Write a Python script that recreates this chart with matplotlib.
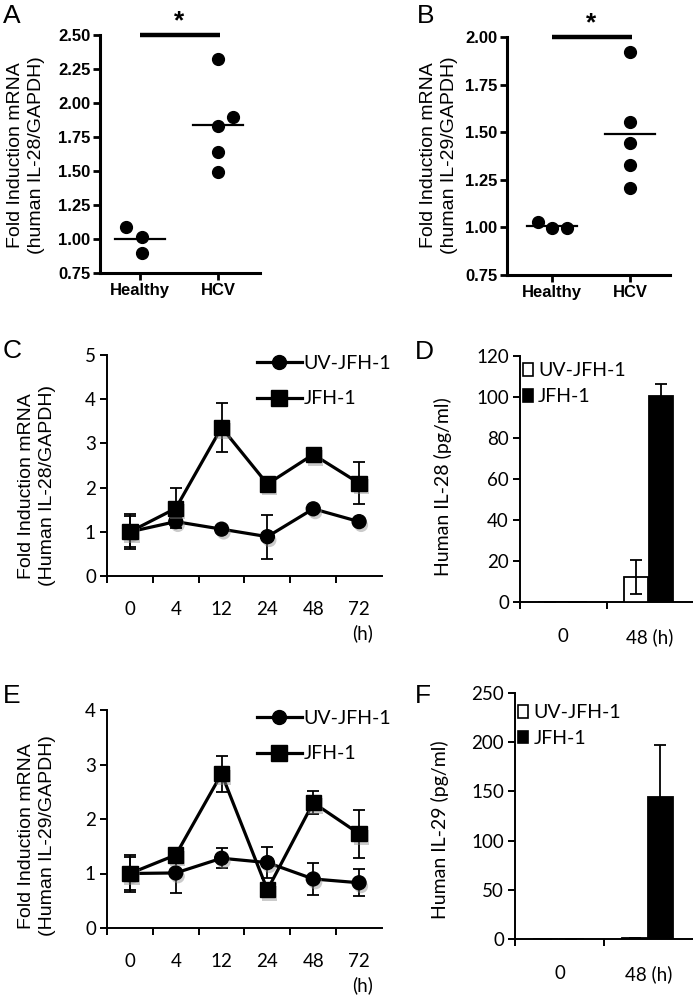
import numpy as np
import matplotlib
matplotlib.use("Agg")
import matplotlib.pyplot as plt
import matplotlib.patheffects as pe
from matplotlib.patches import Patch
from matplotlib.lines import Line2D

# ---- data -------------------------------------------------------------
groups = ["Healthy", "HCV"]
a_healthy = [1.09, 1.015, 0.90]
a_hcv = [2.32, 1.90, 1.83, 1.64, 1.49]
b_healthy = [1.03, 0.998, 0.998]
b_hcv = [1.92, 1.554, 1.444, 1.33, 1.208]

hours = ["0", "4", "12", "24", "48", "72"]
c_uv = [1.0, 1.23, 1.06, 0.89, 1.52, 1.23]
c_uv_err = [0.35, 0.05, 0.05, 0.5, 0.05, 0.05]
c_jfh = [1.0, 1.53, 3.36, 2.08, 2.75, 2.10]
c_jfh_err = [0.4, 0.45, 0.55, 0.05, 0.05, 0.48]

e_uv = [1.0, 1.01, 1.28, 1.20, 0.90, 0.83]
e_uv_err = [0.3, 0.37, 0.18, 0.29, 0.30, 0.25]
e_jfh = [1.0, 1.34, 2.83, 0.70, 2.30, 1.73]
e_jfh_err = [0.34, 0.08, 0.33, 0.05, 0.21, 0.44]

elisa_times = ["0", "48 (h)"]
d_uv = [0, 12.2]
d_uv_err = [0, 8.5]
d_jfh = [0, 100.5]
d_jfh_err = [0, 6]
f_uv = [0.5, 1.5]
f_uv_err = [0, 0]
f_jfh = [0.5, 144]
f_jfh_err = [0, 53]

# horizontal scatter of the dots in A/B (layout only)
jit_a_healthy = [-0.18, 0.02, 0.02]
jit_a_hcv = [0, 0.19, 0, 0, 0]
jit_b_healthy = [-0.18, 0, 0.19]
jit_b_hcv = [0, 0, 0, 0, 0]

W, H = 693, 998
fig = plt.figure(figsize=(W / 100, H / 100), dpi=100)

ARIAL = "Liberation Sans"
CAL = "Lato"
TS = 13.5   # tick label size, panels C-F


def px_axes(l, t, r, b):
    return fig.add_axes([l / W, 1 - b / H, (r - l) / W, (b - t) / H])


def letter(x, y, s):
    fig.text(x / W, 1 - y / H, s, fontsize=19, family=ARIAL, va="baseline", ha="left")


def ylab(x, y, s, family=ARIAL, size=14):
    fig.text(x / W, 1 - y / H, s, rotation=90, ha="center", va="center",
             fontsize=size, family=family, multialignment="center", linespacing=1.25)


def scatter_panel(ax, healthy, hcv, jh, jc, ylim, ticks, xlim):
    ax.plot(np.array(jh), healthy, "o", color="black", ms=8.5, clip_on=False)
    ax.plot(1 + np.array(jc), hcv, "o", color="black", ms=8.5, clip_on=False)
    for x, vals in [(0, healthy), (1, hcv)]:
        m = np.mean(vals)
        ax.plot([x - 0.32, x + 0.32], [m, m], color="black", lw=1.6)
    ax.set_xlim(*xlim)
    ax.set_ylim(*ylim)
    ax.set_yticks(ticks)
    ax.set_yticklabels(["%.2f" % t for t in ticks])
    ax.set_xticks([0, 1])
    ax.set_xticklabels(groups)
    for s in ["top", "right"]:
        ax.spines[s].set_visible(False)
    for s in ["left", "bottom"]:
        ax.spines[s].set_linewidth(2.2)
    ax.tick_params(width=2.0, length=5, direction="out", labelsize=12, pad=2)
    for lab in ax.get_xticklabels() + ax.get_yticklabels():
        lab.set_fontweight("bold")
        lab.set_family(ARIAL)
    # significance bar
    top = ylim[1]
    ax.plot([0, 1.03], [top, top], color="black", lw=3.2, clip_on=False, solid_capstyle="butt")
    ax.annotate("*", xy=(0.5, top), xycoords="data", xytext=(0, 1), textcoords="offset points",
                ha="center", va="bottom", fontsize=19, fontweight="bold", family=ARIAL)


# ---- A ----
axA = px_axes(100, 35, 260, 273)
scatter_panel(axA, a_healthy, a_hcv, jit_a_healthy, jit_a_hcv, (0.75, 2.50),
              np.arange(0.75, 2.51, 0.25), (-0.513, 1.54))
letter(3, 23, "A")
ylab(26, 155, "Fold Induction mRNA\n(human IL-28/GAPDH)")

# ---- B ----
axB = px_axes(507, 37, 670, 275)
scatter_panel(axB, b_healthy, b_hcv, jit_b_healthy, jit_b_hcv, (0.75, 2.00),
              np.arange(0.75, 2.01, 0.25), (-0.577, 1.513))
letter(417, 23, "B")
ylab(439, 155, "Fold Induction mRNA\n(human IL-29/GAPDH)")

shadow = [pe.SimplePatchShadow(offset=(1.5, -2.5), shadow_rgbFace="0.55", alpha=0.45), pe.Normal()]


def line_panel(ax, uv, uv_err, jfh, jfh_err, ymax):
    x = np.arange(len(hours))
    ekw = dict(ecolor="black", elinewidth=1.3, capsize=4, capthick=1.3)
    ax.errorbar(x, uv, yerr=uv_err, fmt="-", color="black", lw=2.3, zorder=3, **ekw)
    ax.plot(x, uv, "o", color="black", ms=10, zorder=3.5, path_effects=shadow)
    ax.errorbar(x, jfh, yerr=jfh_err, fmt="-", color="black", lw=2.3, zorder=4, **ekw)
    ax.plot(x, jfh, "s", color="black", ms=11, zorder=4.5, path_effects=shadow)
    ax.set_xlim(-0.5, len(hours) - 0.5)
    ax.set_ylim(0, ymax)
    ax.set_yticks(range(0, ymax + 1))
    ax.set_xticks(x)
    ax.set_xticklabels(hours)
    ax.set_xticks(np.arange(-0.5, len(hours) - 1, 1), minor=True)
    for s in ["top", "right"]:
        ax.spines[s].set_visible(False)
    for s in ["left", "bottom"]:
        ax.spines[s].set_linewidth(1.4)
    ax.tick_params(axis="x", which="major", length=0, pad=18, labelsize=TS)
    ax.tick_params(axis="x", which="minor", length=5, width=1.4, direction="out")
    ax.tick_params(axis="y", length=5, width=1.4, direction="out", labelsize=TS, pad=3)
    for lab in ax.get_xticklabels() + ax.get_yticklabels():
        lab.set_family(CAL)
    ax.annotate("(h)", xy=(len(hours) - 1, 0), xycoords=("data", "axes fraction"),
                xytext=(3, -57), textcoords="offset pixels", ha="center", va="center",
                fontsize=TS, family=CAL)
    handles = [Line2D([], [], color="black", marker="o", lw=2.3, ms=10),
               Line2D([], [], color="black", marker="s", lw=2.3, ms=11)]
    ax.legend(handles, ["UV-JFH-1", "JFH-1"], loc="upper left", bbox_to_anchor=(0.545, 1.0),
              frameon=False, borderaxespad=0, borderpad=0, handlelength=2.3,
              handletextpad=0.1, labelspacing=0.95, prop={"family": CAL, "size": 14})


# ---- C ----
axC = px_axes(107, 355, 382, 576)
line_panel(axC, c_uv, c_uv_err, c_jfh, c_jfh_err, 5)
letter(3, 358, "C")
ylab(37, 486, "Fold Induction mRNA\n(Human IL-28/GAPDH)")

# ---- E ----
axE = px_axes(107, 710, 382, 928)
line_panel(axE, e_uv, e_uv_err, e_jfh, e_jfh_err, 4)
letter(3, 703, "E")
ylab(37, 836, "Fold Induction mRNA\n(Human IL-29/GAPDH)")


def bar_panel(ax, uv, uv_err, jfh, jfh_err, ymax, step, top_anchor):
    x = np.arange(len(elisa_times))
    w = 0.28
    ekw = dict(ecolor="black", elinewidth=1.3, capsize=4, capthick=1.3)
    ax.bar(x - 0.155, uv, w, color="white", edgecolor="black", lw=1.3, yerr=uv_err,
           error_kw=ekw, zorder=3)
    ax.bar(x + 0.13, jfh, w, color="black", edgecolor="black", lw=1.3, yerr=jfh_err,
           error_kw=ekw, zorder=2)
    ax.set_xlim(-0.48, 1.5)
    ax.set_ylim(0, ymax)
    ax.set_yticks(np.arange(0, ymax + 1, step))
    ax.set_xticks(x)
    ax.set_xticklabels(elisa_times)
    ax.set_xticks([-0.5, 0.5], minor=True)
    for s in ["top", "right"]:
        ax.spines[s].set_visible(False)
    for s in ["left", "bottom"]:
        ax.spines[s].set_linewidth(1.4)
    ax.tick_params(axis="x", which="major", length=0, pad=19, labelsize=TS)
    ax.tick_params(axis="x", which="minor", length=5, width=1.4, direction="out")
    ax.tick_params(axis="y", length=5, width=1.4, direction="out", labelsize=TS, pad=3)
    for lab in ax.get_xticklabels() + ax.get_yticklabels():
        lab.set_family(CAL)
    handles = [Patch(facecolor="white", edgecolor="black", lw=1.2),
               Patch(facecolor="black", edgecolor="black", lw=1.2)]
    ax.legend(handles, ["UV-JFH-1", "JFH-1"], loc="upper left", bbox_to_anchor=(0.015, top_anchor),
              frameon=False, borderaxespad=0, borderpad=0, handlelength=0.55, handleheight=0.65,
              handletextpad=0.25, labelspacing=0.45, prop={"family": CAL, "size": 14})


# ---- D ----
axD = px_axes(520, 356, 693, 602)
bar_panel(axD, d_uv, d_uv_err, d_jfh, d_jfh_err, 120, 20, 0.975)
letter(415, 359, "D")
ylab(443, 487, "Human IL-28 (pg/ml)", family=CAL, size=14)

# ---- F ----
axF = px_axes(515, 693, 693, 939)
bar_panel(axF, f_uv, f_uv_err, f_jfh, f_jfh_err, 250, 50, 0.955)
letter(415, 703, "F")
ylab(440, 830, "Human IL-29 (pg/ml)", family=CAL, size=14)

fig.savefig("out.png", dpi=100)
